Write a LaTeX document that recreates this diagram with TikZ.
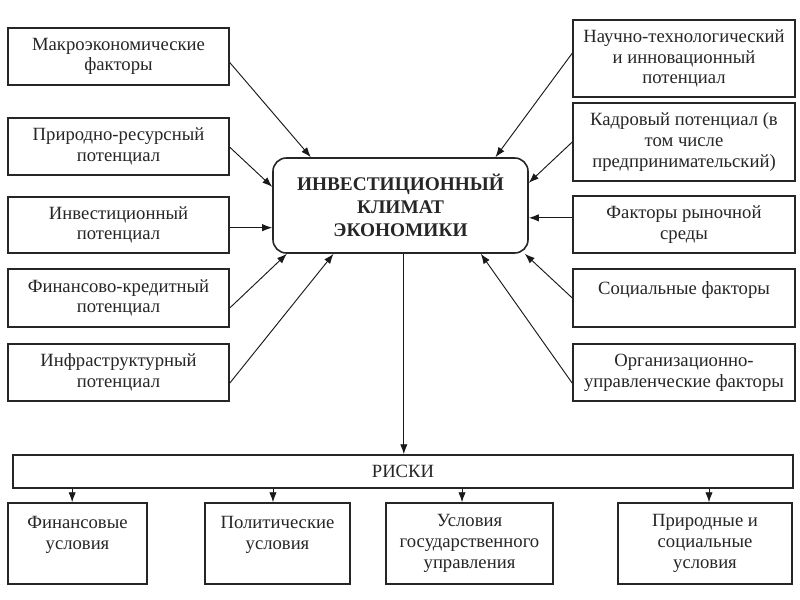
\documentclass[tikz,border=0pt]{standalone}
\usepackage{fontspec}
\setmainfont{Liberation Serif}
\usetikzlibrary{arrows.meta}
\newcommand\placebox[7]{% style, name, x1, y1, x2, y2, text
  \pgfmathsetmacro\bw{(#5-(#3))*0.75}%
  \pgfmathsetmacro\bh{(#6-(#4))*0.75}%
  \node[#1, minimum width=\bw pt, minimum height=\bh pt] (#2) at ({(#3+#5)/2},{(#4+#6)/2}) {#7};}
\begin{document}
\begin{tikzpicture}[x=0.75pt,y=-0.75pt,
  box/.style={draw=black!85, line width=1.1pt, inner sep=0pt, align=center,
    font=\fontsize{14}{15.5}\selectfont, text=black!85},
  cbox/.style={box, rounded corners=10pt, line width=1.2pt,
    font=\fontsize{14.5}{17.3}\selectfont\bfseries},
  arr/.style={-{Latex[length=7.5pt,width=5.5pt]}, line width=0.7pt, draw=black!90},
]
\useasboundingbox[fill=white] (0,0) rectangle (800,600);

% left column
\placebox{box}{L1}{8}{28}{229}{85}{Макроэкономические\\факторы}
\placebox{box}{L2}{8}{118}{229}{175}{Природно-ресурсный\\потенциал}
\placebox{box}{L3}{8}{197}{229}{253}{Инвестиционный\\потенциал}
\placebox{box}{L4}{8}{269}{229}{327}{Финансово-кредитный\\потенциал}
\placebox{box}{L5}{8}{344}{229}{401}{Инфраструктурный\\потенциал}

% right column
\placebox{box}{R1}{573}{20}{795}{97}{Научно-технологический\\и инновационный\\потенциал}
\placebox{box}{R2}{573}{103}{795}{181}{Кадровый потенциал (в\\том числе\\предпринимательский)}
\placebox{box}{R3}{573}{196}{795}{253}{Факторы рыночной\\среды}
\placebox{box}{R4}{573}{269}{795}{327}{Социальные факторы\\\mbox{}}
\placebox{box}{R5}{573}{344}{795}{401}{Организационно-\\управленческие факторы}

% centre
\placebox{cbox}{C}{273}{158}{528}{253}{ИНВЕСТИЦИОННЫЙ\\КЛИМАТ\\ЭКОНОМИКИ}

% risks
\placebox{box}{RISK}{13}{455}{793}{488}{РИСКИ}

% bottom row
\placebox{box}{B1}{8}{503}{147}{584}{Финансовые\\условия\\\mbox{}}
\placebox{box}{B2}{205}{503}{350}{584}{Политические\\условия\\\mbox{}}
\placebox{box}{B3}{386}{503}{553}{584}{Условия\\государственного\\управления}
\placebox{box}{B4}{618}{503}{792}{584}{Природные и\\социальные\\условия}

% arrows into the centre
\draw[arr] ([yshift=-4.5pt]L1.east) -- ([xshift=29pt]C.north west);
\draw[arr] ([yshift=-0.5pt]L2.east) -- ([yshift=14pt]C.west);
\draw[arr] ([yshift=-2pt]L3.east) -- ([yshift=-2pt]L3.east -| C.west);
\draw[arr] ([yshift=-7.5pt]L4.east) -- ([xshift=11pt]C.south west);
\draw[arr] ([yshift=-8pt]L5.east) -- ([xshift=46pt]C.south west);

\draw[arr] ([yshift=4pt]R1.west) -- ([xshift=-25pt]C.north east);
\draw[arr] (R2.west) -- ([yshift=17pt]C.east);
\draw[arr] ([yshift=5pt]R3.west) -- ([yshift=5pt]R3.west -| C.east);
\draw[arr] (R4.west) -- ([xshift=-3pt]C.south east);
\draw[arr] ([yshift=-8pt]R5.west) -- ([xshift=-36pt]C.south east);

% centre to risks
\draw[arr] ([xshift=2.5pt]C.south) -- ([xshift=2.5pt]C.south |- RISK.north);

% risks to bottom row
\draw[arr] ([xshift=-4pt]B1.north |- RISK.south) -- ([xshift=-4pt]B1.north);
\draw[arr] ([xshift=-3.4pt]B2.north |- RISK.south) -- ([xshift=-3.4pt]B2.north);
\draw[arr] ([xshift=-5.6pt]B3.north |- RISK.south) -- ([xshift=-5.6pt]B3.north);
\draw[arr] ([xshift=3pt]B4.north |- RISK.south) -- ([xshift=3pt]B4.north);
\end{tikzpicture}
\end{document}
